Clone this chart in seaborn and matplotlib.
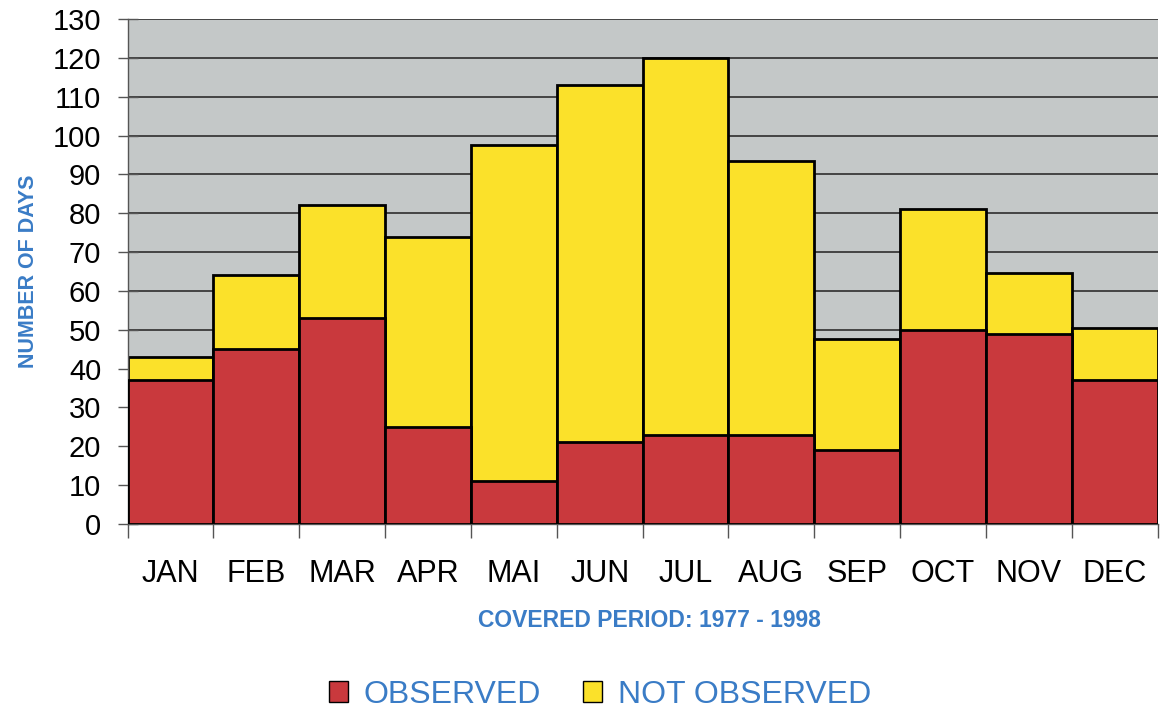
import matplotlib
matplotlib.use("Agg")
import matplotlib.pyplot as plt
from matplotlib.patches import Patch
import seaborn as sns

# Data (days per month, 1977 - 1998)
months = ["JAN", "FEB", "MAR", "APR", "MAI", "JUN",
          "JUL", "AUG", "SEP", "OCT", "NOV", "DEC"]
observed = [37, 45, 53, 25, 11, 21, 23, 23, 19, 50, 49, 37]
total_days = [43, 64, 82, 74, 97.5, 113, 120, 93.5, 47.5, 81, 64.5, 50.5]

RED = "#c9393d"
YELLOW = "#fbe12a"
BLUE = "#3a7cc6"
BG = "#c4c8c8"

sns.set_theme(style="white")
plt.rcParams["font.family"] = ["Liberation Sans", "DejaVu Sans"]

fig = plt.figure(figsize=(11.6, 7.14), dpi=100)
ax = fig.add_axes([0.110, 0.2661, 0.888, 0.7073])
ax.set_facecolor(BG)

# horizontal grid lines behind the bars
for v in range(10, 140, 10):
    ax.axhline(v, color="#3a3a3a", lw=1.3, zorder=0)

# stacked look: total (yellow) first, observed (red) on top
sns.barplot(x=months, y=total_days, color=YELLOW, saturation=1, width=1,
            edgecolor="black", linewidth=2, ax=ax, zorder=2)
sns.barplot(x=months, y=observed, color=RED, saturation=1, width=1,
            edgecolor="black", linewidth=2, ax=ax, zorder=3)

ax.set_xlim(-0.5, 11.5)
ax.set_ylim(0, 130)
ax.set_yticks(range(0, 140, 10))
ax.tick_params(axis="y", labelsize=21, direction="inout", length=14,
               width=1, color="#555555", labelcolor="black", left=True, pad=12)
ax.tick_params(axis="x", labelsize=22, length=0, pad=25, labelcolor="black")
ax.set_xticks(range(12))
ax.set_xticklabels(months)
ax.set_xticks([i - 0.5 for i in range(13)], minor=True)
ax.tick_params(axis="x", which="minor", direction="out", length=10,
               width=1, color="#555555", bottom=True)

for side in ["top", "right"]:
    ax.spines[side].set_visible(False)
for side in ["left", "bottom"]:
    ax.spines[side].set_color("#555555")
    ax.spines[side].set_linewidth(1)

ax.set_xlabel("")
ax.set_ylabel("NUMBER OF DAYS", color=BLUE, fontsize=15.5, fontweight="bold",
              labelpad=10)

fig.text(0.56, 0.131, "COVERED PERIOD: 1977 - 1998", color=BLUE,
         fontsize=16.5, fontweight="bold", ha="center", va="center")

handles = [Patch(facecolor=RED, edgecolor="black", label="OBSERVED"),
           Patch(facecolor=YELLOW, edgecolor="black", label="NOT OBSERVED")]
leg = fig.legend(handles=handles, loc="center", bbox_to_anchor=(0.517, 0.027),
                 ncol=2, frameon=False, fontsize=23, handlelength=0.6,
                 handleheight=0.6, handletextpad=0.5, columnspacing=1.3)
for t in leg.get_texts():
    t.set_color(BLUE)

fig.savefig("out.png", dpi=100)
